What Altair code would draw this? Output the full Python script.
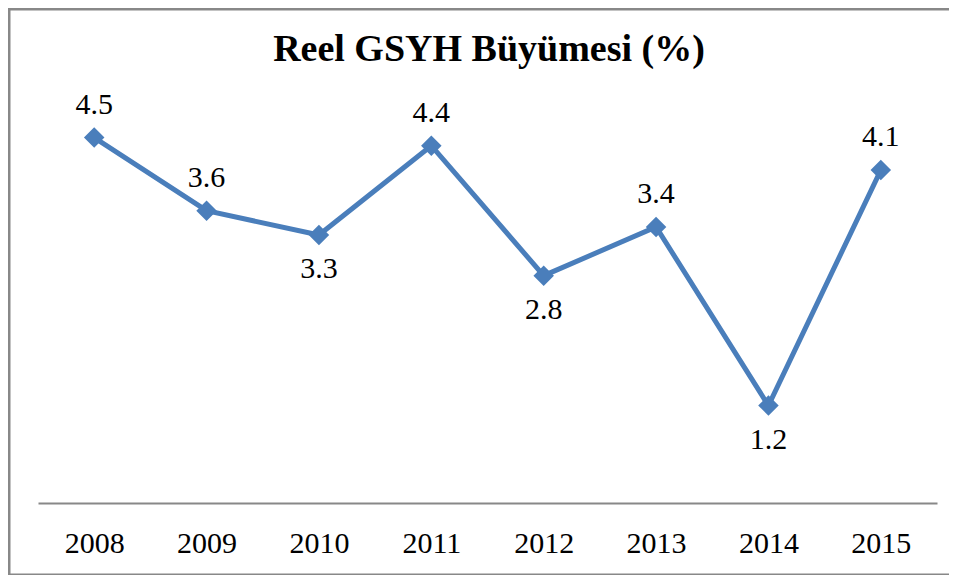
import altair as alt
import pandas as pd

title_text = "Reel GSYH Büyümesi (%)"
years = ["2008", "2009", "2010", "2011", "2012", "2013", "2014", "2015"]
growth = [4.5, 3.6, 3.3, 4.4, 2.8, 3.4, 1.2, 4.1]
label_pos = ["above", "above", "below", "above", "below", "above", "below", "above"]

df = pd.DataFrame({"year": years, "growth": growth, "pos": label_pos,
                   "label": [f"{v:.1f}" for v in growth]})

LINE = "#4A7EBB"
FONT = "Times New Roman, Liberation Serif, serif"

base = alt.Chart(df)
x = alt.X("year:N", sort=years, title=None,
          axis=alt.Axis(labelAngle=0, ticks=False, tickSize=0, grid=False,
                        domainColor="#888888", domainWidth=2,
                        labelFont=FONT, labelFontSize=30, labelColor="black",
                        labelBaseline="middle", labelPadding=40))
y = alt.Y("growth:Q", scale=alt.Scale(domain=[0, 5], nice=False, zero=True),
          axis=None)

line = base.mark_line(color=LINE, strokeWidth=5).encode(x=x, y=y)
pts = base.mark_point(shape="diamond", filled=True, size=420, color=LINE,
                      opacity=1).encode(x=x, y=y)
above = base.transform_filter(alt.datum.pos == "above").mark_text(
    font=FONT, fontSize=30, color="black", baseline="middle", dy=-33
).encode(x=x, y=y, text="label:N")
below = base.transform_filter(alt.datum.pos == "below").mark_text(
    font=FONT, fontSize=30, color="black", baseline="middle", dy=34
).encode(x=x, y=y, text="label:N")

title = alt.Chart(alt.Data(values=[{"t": title_text}])).mark_text(
    font=FONT, fontSize=38, fontWeight="bold", color="black",
    align="center", baseline="alphabetic"
).encode(text="t:N", x=alt.value(451), y=alt.value(-36))

frame = alt.Chart(alt.Data(values=[{}])).mark_rect(
    fill=None, stroke="#888888", strokeWidth=2.5
).encode(x=alt.value(-28.75), x2=alt.value(1000),
         y=alt.value(-87.75), y2=alt.value(477.75))

chart = alt.layer(frame, line, pts, above, below, title).properties(
    width=899, height=406,
    autosize=alt.AutoSizeParams(type="none"),
    padding={"left": 30, "top": 89, "right": 12, "bottom": 72},
).configure_view(stroke=None)

chart.save("out.html", embed_options={"renderer": "svg", "actions": False})
